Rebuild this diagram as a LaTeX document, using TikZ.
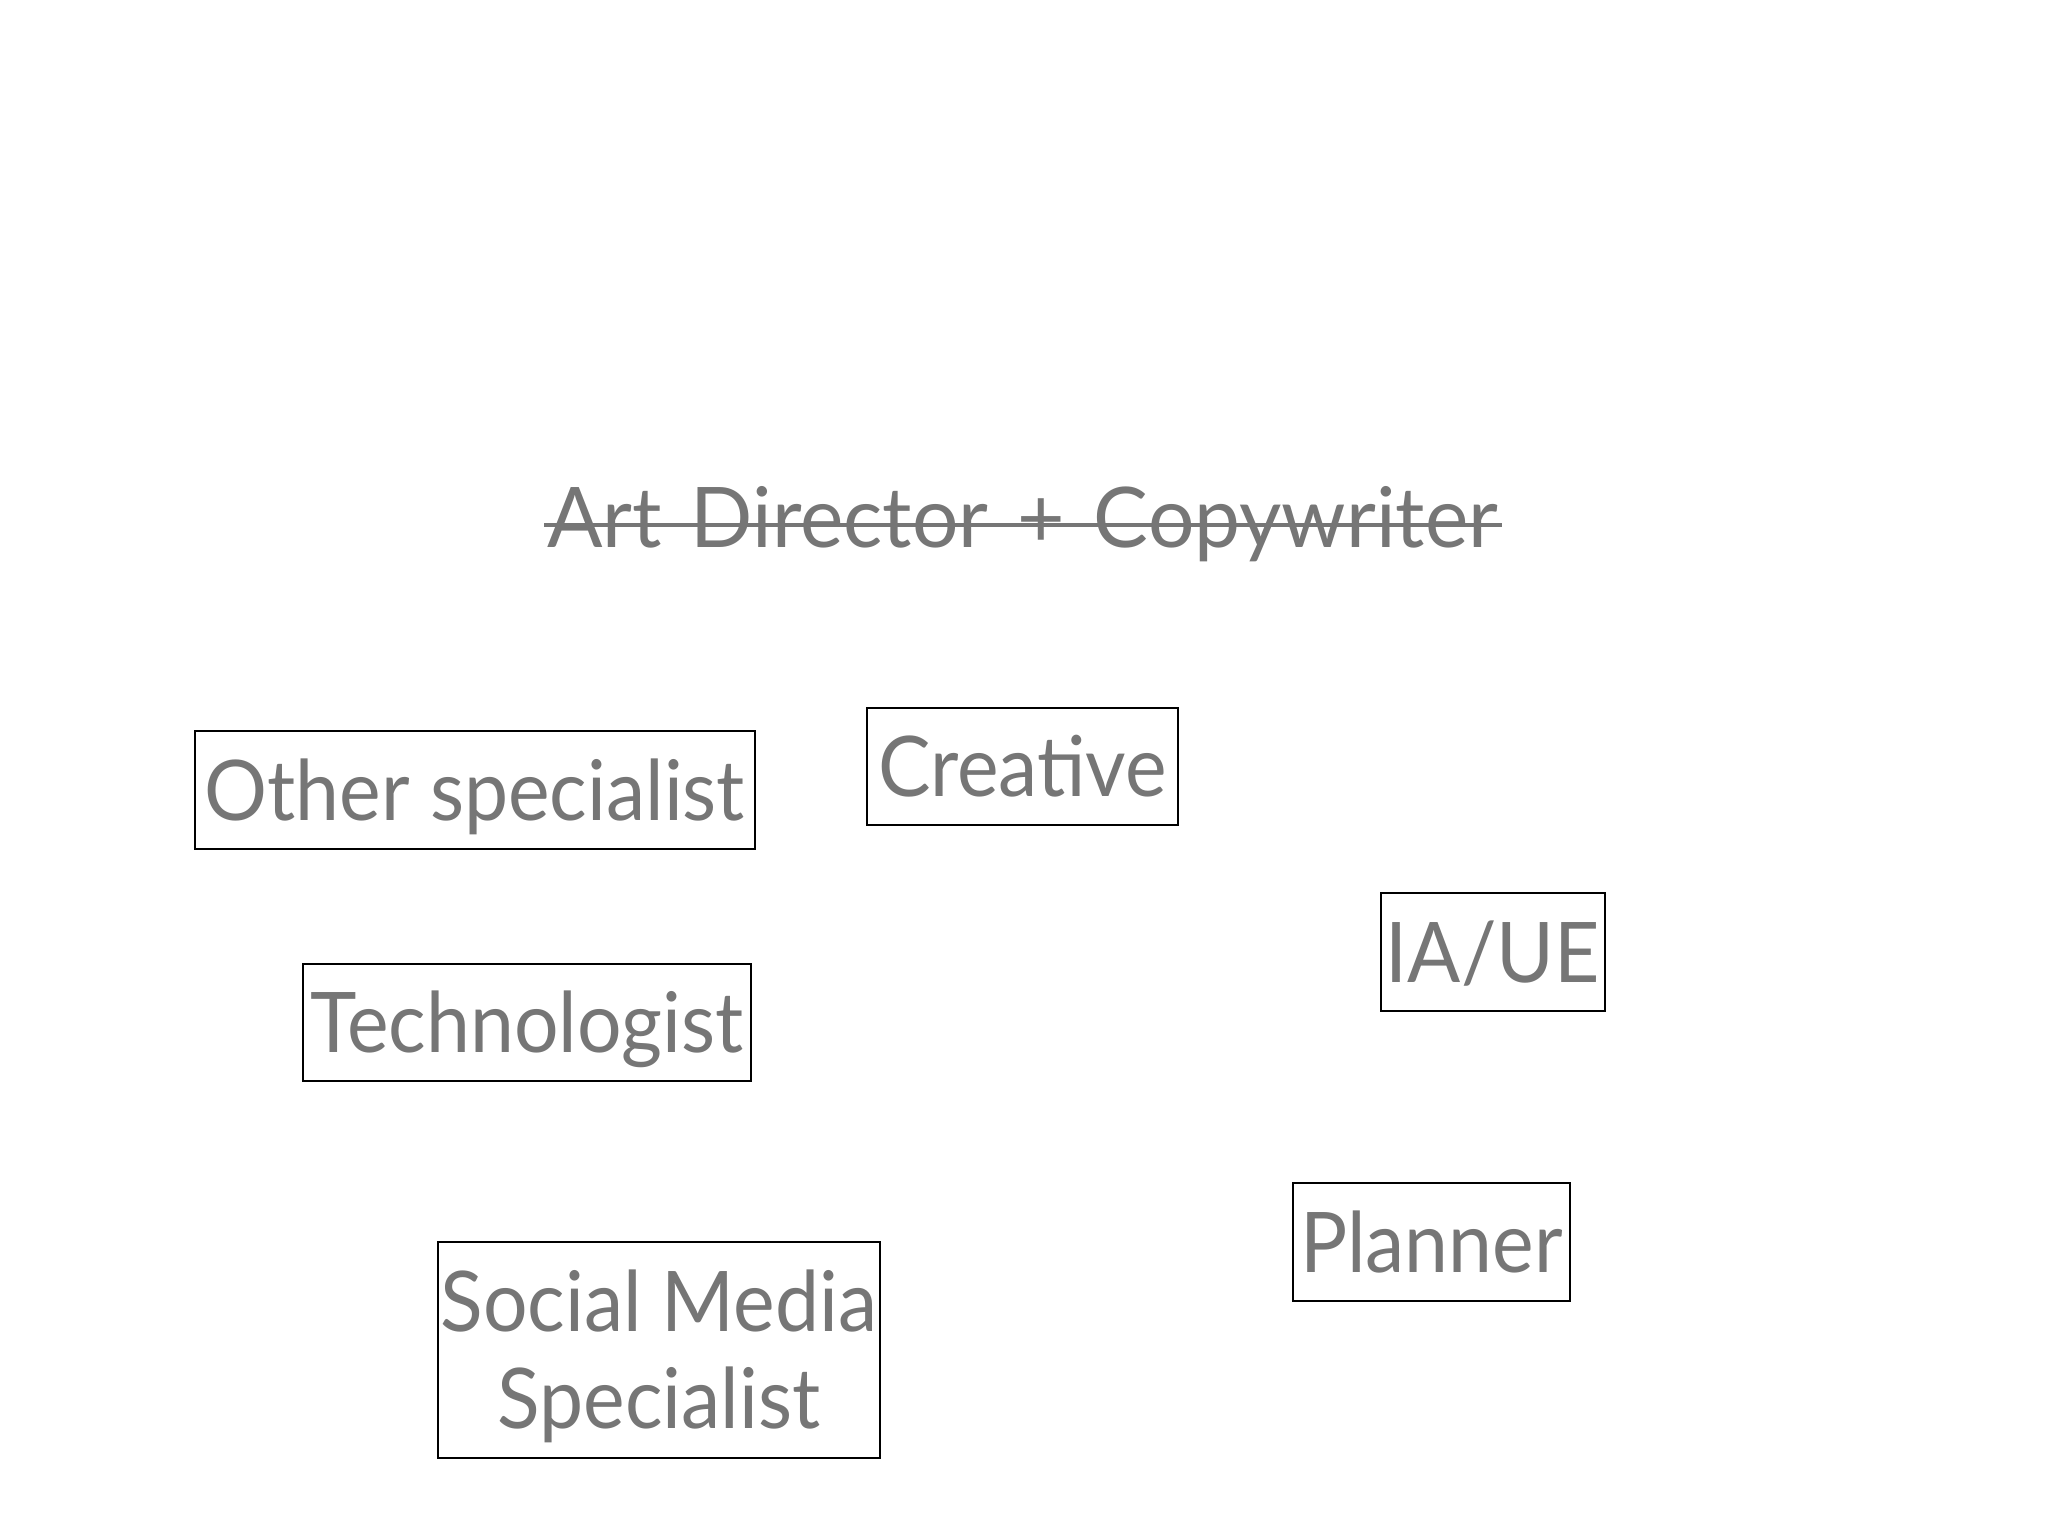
\documentclass[tikz,border=0pt]{standalone}
\usepackage{fontspec}
\setmainfont{Lato}[FakeStretch=0.94]
\newfontfamily\titlefont{Lato}[FakeStretch=0.98]
\definecolor{txtgray}{RGB}{118,118,118}
\begin{document}
\begin{tikzpicture}[x=0.01cm,y=-0.01cm,
  every node/.style={text=txtgray,font=\fontsize{23.8pt}{27.5pt}\selectfont},
  rolebox/.style={draw=black,line width=0.6pt,inner sep=0pt,text height=0.6cm,text depth=0pt,align=center},
  plainbox/.style={draw=black,line width=0.6pt,inner sep=0pt}]
\useasboundingbox[fill=white] (0,0) rectangle (2048,1536);
\node[anchor=base,inner sep=0pt] (title) at (1022.5,547) {\titlefont\spaceskip=0.29cm Art Director + Copywriter};
\coordinate (sl) at (544,525);
\coordinate (sr) at (1502,525);
\draw[txtgray,line width=1pt] (sl) -- (sr);
\node[rolebox,minimum width=5.60cm,minimum height=1.18cm] (other) at (475,790) {Other specialist};
\node[rolebox,minimum width=3.11cm,minimum height=1.17cm] (creative) at (1022.5,766.5) {Creative};
\node[rolebox,minimum width=2.24cm,minimum height=1.18cm] (iaue) at (1493,952) {IA/UE};
\node[rolebox,minimum width=4.48cm,minimum height=1.17cm] (tech) at (527,1022.5) {Technologist};
\node[rolebox,minimum width=2.77cm,minimum height=1.18cm] (planner) at (1431.5,1242) {Planner};
\node[plainbox,minimum width=4.42cm,minimum height=2.16cm] (social) at (659,1350) {};
\node[anchor=base,inner sep=0pt] (social1) at (659,1331) {Social Media};
\node[anchor=base,inner sep=0pt] (social2) at (659,1428) {Specialist};
\end{tikzpicture}
\end{document}
